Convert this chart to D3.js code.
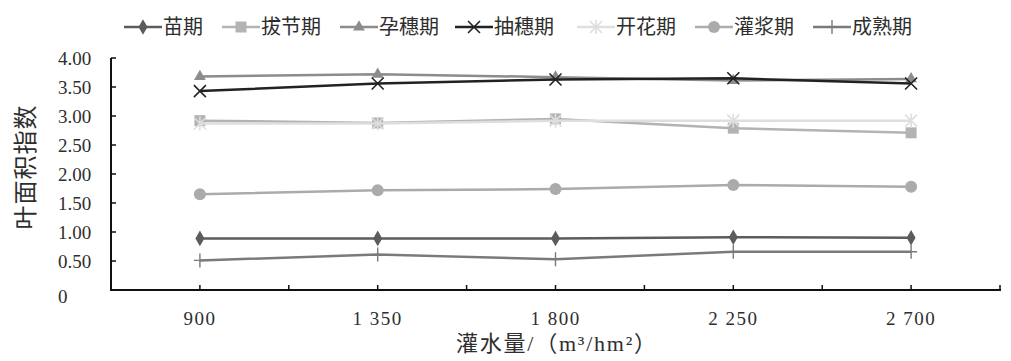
<!DOCTYPE html>
<html>
<head>
<meta charset="utf-8">
<script src="https://cdn.jsdelivr.net/npm/d3@7"></script>
<style>
  body { margin: 0; background: #fff; }
  svg text { font-family: "Liberation Serif", "Noto Sans CJK SC", serif; fill: #2e2e2e; }
</style>
</head>
<body>
<svg width="1011" height="361"></svg>
<script>
var svg = d3.select("svg"),
    width = +svg.attr("width"),
    height = +svg.attr("height");

// irrigation amounts (m3/hm2)
var categories = ["900", "1 350", "1 800", "2 250", "2 700"];
var yTicks = [0, 0.5, 1, 1.5, 2, 2.5, 3, 3.5, 4];

// leaf area index per growth stage
var miaoqi     = [0.89, 0.89, 0.89, 0.91, 0.90];
var bajieqi    = [2.92, 2.88, 2.95, 2.79, 2.71];
var yunsuiqi   = [3.68, 3.72, 3.67, 3.61, 3.64];
var chousuiqi  = [3.43, 3.56, 3.63, 3.65, 3.56];
var kaihuaqi   = [2.87, 2.87, 2.92, 2.92, 2.92];
var guanjiangqi = [1.65, 1.72, 1.74, 1.81, 1.78];
var chengshuqi = [0.51, 0.61, 0.53, 0.66, 0.66];

var series = [
    { name: "苗期",   values: miaoqi,      color: "#5c5c5c", marker: "diamond" },
    { name: "拔节期", values: bajieqi,     color: "#b3b3b3", marker: "square" },
    { name: "孕穗期", values: yunsuiqi,    color: "#8c8c8c", marker: "triangle" },
    { name: "抽穗期", values: chousuiqi,   color: "#222222", marker: "x" },
    { name: "开花期", values: kaihuaqi,    color: "#dedede", marker: "star" },
    { name: "灌浆期", values: guanjiangqi, color: "#ababab", marker: "circle" },
    { name: "成熟期", values: chengshuqi,  color: "#7a7a7a", marker: "plus" }
];

var margin = { left: 111, right: 11, top: 58, bottom: 71 };

var x = d3.scaleBand()
    .domain(categories)
    .range([margin.left, width - margin.right])
    .padding(0);

var y = d3.scaleLinear()
    .domain([0, 4])
    .range([height - margin.bottom, margin.top]);

function cx(i) { return x(categories[i]) + x.bandwidth() / 2; }

// draw a marker into selection g
function drawMarker(g, type, color) {
    if (type === "diamond") {
        g.append("path").attr("d", d3.symbol(d3.symbolDiamond, 70)()).attr("fill", color);
    } else if (type === "square") {
        g.append("rect").attr("x", -5.5).attr("y", -5.5).attr("width", 11).attr("height", 11).attr("fill", color);
    } else if (type === "triangle") {
        g.append("path").attr("d", d3.symbol(d3.symbolTriangle, 60)()).attr("fill", color);
    } else if (type === "circle") {
        g.append("circle").attr("r", 6).attr("fill", color);
    } else if (type === "x") {
        g.append("path").attr("d", "M-6,-6L6,6M-6,6L6,-6").attr("stroke", color).attr("stroke-width", 1.6).attr("fill", "none");
    } else if (type === "star") {
        g.append("path").attr("d", "M-6,-6L6,6M-6,6L6,-6M0,-7L0,7").attr("stroke", color).attr("stroke-width", 1.6).attr("fill", "none");
    } else if (type === "plus") {
        g.append("path").attr("d", "M-6,0L6,0M0,-7L0,7").attr("stroke", color).attr("stroke-width", 1.4).attr("fill", "none");
    }
}

// axes
var axisG = svg.append("g");
axisG.append("line")
    .attr("x1", margin.left).attr("x2", margin.left)
    .attr("y1", y(4)).attr("y2", y(0))
    .attr("stroke", "#111").attr("stroke-width", 2);
axisG.append("line")
    .attr("x1", margin.left - 1).attr("x2", width - margin.right + 1)
    .attr("y1", y(0)).attr("y2", y(0))
    .attr("stroke", "#111").attr("stroke-width", 2);

// y ticks and labels
axisG.selectAll(".ytick")
    .data(yTicks.filter(function(d) { return d > 0; }))
    .enter().append("line")
        .attr("x1", margin.left).attr("x2", margin.left + 5)
        .attr("y1", function(d) { return y(d); })
        .attr("y2", function(d) { return y(d); })
        .attr("stroke", "#111").attr("stroke-width", 1.5);

axisG.selectAll(".ylabel")
    .data(yTicks)
    .enter().append("text")
        .attr("x", 58)
        .attr("y", function(d) { return d === 0 ? y(d) + 6 : y(d); })
        .attr("dy", "0.35em")
        .attr("font-size", 19)
        .text(function(d) { return d === 0 ? "0" : d.toFixed(2); });

// x ticks at band edges and centers
var xTickPos = [];
categories.forEach(function(c, i) {
    xTickPos.push(x(c));
    xTickPos.push(cx(i));
});
xTickPos.push(width - margin.right);

axisG.selectAll(".xtick")
    .data(xTickPos)
    .enter().append("line")
        .attr("x1", function(d) { return d; })
        .attr("x2", function(d) { return d; })
        .attr("y1", y(0)).attr("y2", y(0) - 5)
        .attr("stroke", "#111").attr("stroke-width", 1.5);

axisG.selectAll(".xlabel")
    .data(categories)
    .enter().append("text")
        .attr("x", function(d, i) { return cx(i); })
        .attr("y", 318)
        .attr("dy", "0.35em")
        .attr("text-anchor", "middle")
        .attr("font-size", 19)
        .attr("letter-spacing", 1.5)
        .text(function(d) { return d; });

// axis titles
svg.append("text")
    .attr("x", 556).attr("y", 343)
    .attr("dy", "0.35em")
    .attr("text-anchor", "middle")
    .attr("font-size", 22)
    .attr("textLength", 200)
    .attr("lengthAdjust", "spacing")
    .text("灌水量/（m³/hm²）");

svg.append("text")
    .attr("transform", "translate(26,167) rotate(-90)")
    .attr("dy", "0.35em")
    .attr("text-anchor", "middle")
    .attr("font-size", 24)
    .attr("letter-spacing", 1)
    .text("叶面积指数");

// lines
var line = d3.line()
    .x(function(d, i) { return cx(i); })
    .y(function(d) { return y(d); });

var seriesG = svg.append("g")
    .selectAll("g")
    .data(series)
    .enter().append("g");

seriesG.append("path")
    .attr("d", function(d) { return line(d.values); })
    .attr("fill", "none")
    .attr("stroke", function(d) { return d.color; })
    .attr("stroke-width", 2.5);

seriesG.each(function(s) {
    var g = d3.select(this);
    s.values.forEach(function(v, i) {
        var m = g.append("g").attr("transform", "translate(" + cx(i) + "," + y(v) + ")");
        drawMarker(m, s.marker, s.color);
    });
});

// legend
var legendX = [124, 222, 340, 455, 577, 695, 813];
var legend = svg.append("g")
    .selectAll("g")
    .data(series)
    .enter().append("g")
        .attr("transform", function(d, i) { return "translate(" + legendX[i] + ",27)"; });

legend.append("line")
    .attr("x1", 0).attr("x2", 38)
    .attr("stroke", function(d) { return d.color; })
    .attr("stroke-width", 2.5);

legend.each(function(s) {
    var m = d3.select(this).append("g").attr("transform", "translate(19,0)");
    drawMarker(m, s.marker, s.color);
});

legend.append("text")
    .attr("x", 39)
    .attr("dy", "0.35em")
    .attr("font-size", 20)
    .text(function(d) { return d.name; });
</script>
</body>
</html>
